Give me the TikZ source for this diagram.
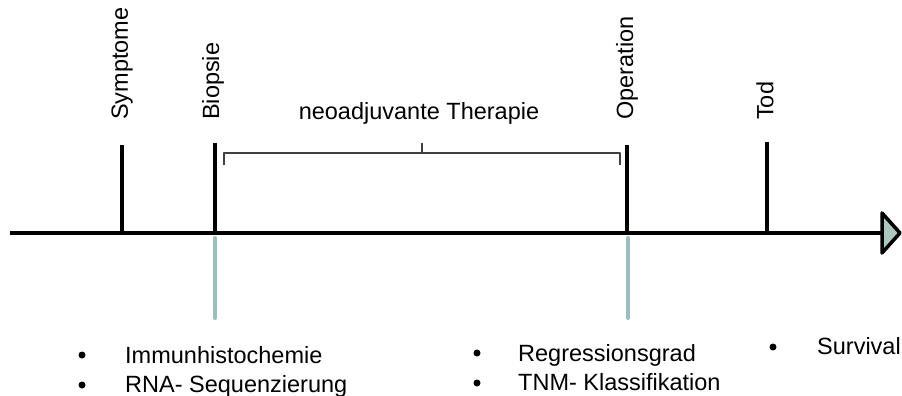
\documentclass[tikz,border=0pt]{standalone}
\usepackage{fontspec}
\setmainfont{Liberation Sans}
\definecolor{grauteal}{RGB}{155,190,190}
\definecolor{pfeilfill}{RGB}{170,200,190}
\tikzset{
  zeitachse/.style={line width=4.5pt},
  marke/.style={line width=4pt},
  probe/.style={line width=4pt, color=grauteal, line cap=round},
  klammer/.style={line width=1.3pt, color=black!75},
  senkrecht/.style={rotate=90, anchor=west, inner sep=0pt},
  punkt/.style={anchor=base west, inner sep=0pt},
  aufzaehl/.style={circle, fill=black, inner sep=0pt, minimum size=7pt}
}
\begin{document}
\begin{tikzpicture}[x=1pt, y=-1pt, font=\fontsize{23.5}{28}\selectfont, line join=round]
  \useasboundingbox (0,0) rectangle (902,396);
  % Zeitachse
  \coordinate (start) at (10,233);
  \coordinate (ende) at (882,233);
  \draw[zeitachse] (start) -- (ende);
  \draw[line width=3.5pt, fill=pfeilfill] (882,213) -- (900,233) -- (882,253) -- cycle;
  % Ereignisse
  \coordinate (symptome) at (122,233);
  \coordinate (biopsie) at (215,233);
  \coordinate (operation) at (627,233);
  \coordinate (tod) at (767,233);
  \draw[marke] (symptome) -- (122,145);
  \draw[marke] (biopsie) -- (215,143);
  \draw[marke] (operation) -- (627,145);
  \draw[marke] (tod) -- (767,142);
  \node[senkrecht] (lsymptome) at (122,120) {Symptome};
  \node[senkrecht] (lbiopsie) at (213,120) {Biopsie};
  \node[senkrecht] (loperation) at (627,120) {Operation};
  \node[senkrecht] (ltod) at (765,120) {Tod};
  % Therapie
  \draw[klammer] (224,165) -- (224,153) -- (620,153) -- (620,165);
  \draw[klammer] (422,153) -- (422,143);
  \node (therapie) at (419,113) {neoadjuvante Therapie};
  % Proben
  \draw[probe] (215,238) -- (215,318);
  \draw[probe] (628,238) -- (628,318);
  % Befunde
  \node[aufzaehl] (b1) at (82,355) {};
  \node[punkt] (immun) at (125,363) {Immunhistochemie};
  \node[aufzaehl] (b2) at (82,385) {};
  \node[punkt] (rna) at (125,392) {RNA- Sequenzierung};
  \node[aufzaehl] (b3) at (477,353) {};
  \node[punkt] (regress) at (518,361) {Regressionsgrad};
  \node[aufzaehl] (b4) at (477,383) {};
  \node[punkt] (tnm) at (518,390) {TNM- Klassifikation};
  \node[aufzaehl] (b5) at (773,347) {};
  \node[punkt] (survival) at (817,354) {Survival};
\end{tikzpicture}
\end{document}
